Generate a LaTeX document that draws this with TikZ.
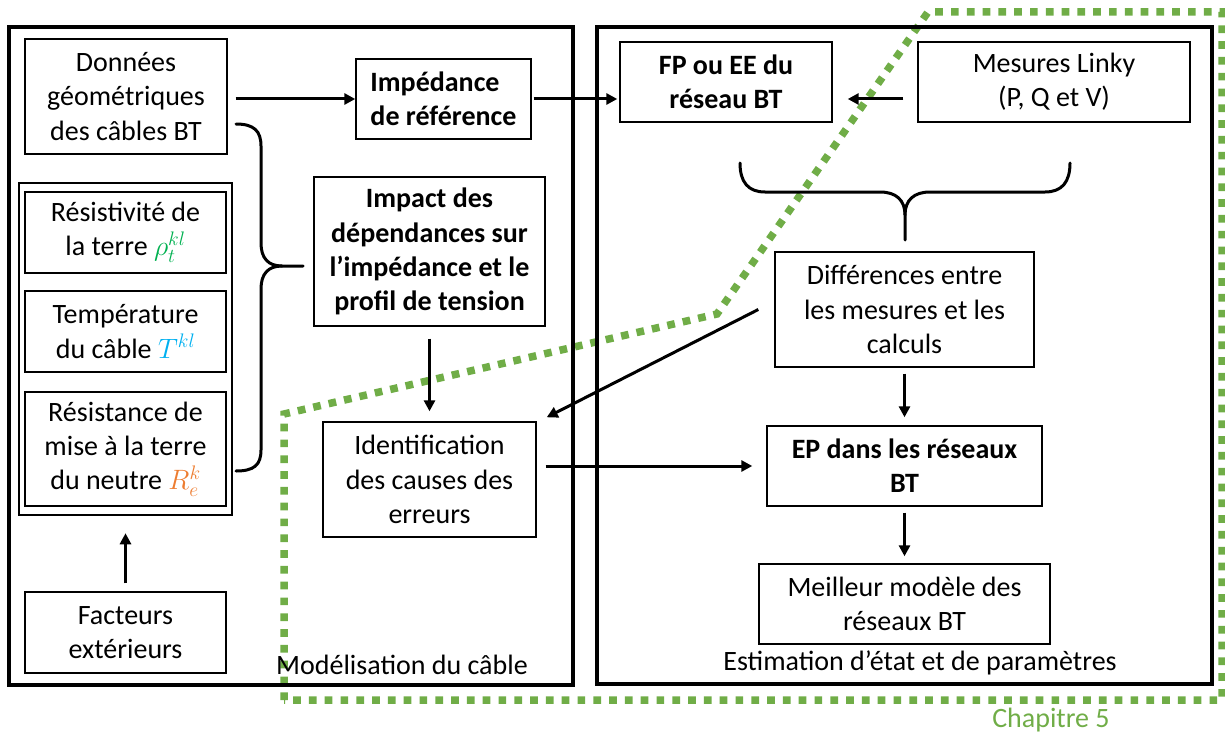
\RequirePackage{fix-cm}
\documentclass[tikz,border=0pt]{standalone}
\usepackage{fontspec}
\setmainfont{Carlito}
\usetikzlibrary{arrows.meta,calc}
\definecolor{chgreen}{HTML}{70AD47}
\definecolor{rhoc}{HTML}{00B050}
\definecolor{tc}{HTML}{00B0F0}
\definecolor{rc}{HTML}{ED7D31}
\tikzset{
  box/.style={draw, line width=1.4pt, inner sep=0pt, align=center,
    font=\fontsize{28}{34.2}\selectfont},
  bbox/.style={box, font=\fontsize{28}{34.2}\selectfont\bfseries},
  frame/.style={draw, line width=3.5pt},
  arr/.style={line width=3pt, -{Triangle[length=11pt,width=11pt]}},
  brace/.style={line width=3pt, line cap=round},
  lbl/.style={inner sep=0pt, font=\fontsize{28}{34.2}\selectfont},
  chap/.style={draw=chgreen, line width=7.5pt, dash pattern=on 7.7pt off 8.1pt}
}
\begin{document}
\begin{tikzpicture}[x=1pt,y=-1pt]
\useasboundingbox (0,0) rectangle (1225,733);
% chapter 5 dotted outline
\draw[chap] (284,700) -- (284,414) -- (717,314) -- (928,12) -- (1222,12) -- (1222,700) -- cycle;
% big frames
\draw[frame] (9,27) rectangle (573,685);
\draw[frame] (597,27) rectangle (1212,684);
% left column
\node[box, minimum width=202pt, minimum height=115pt] (don) at (126,96.5) {Données\\géométriques\\des câbles BT};
\node[draw, line width=2.5pt, minimum width=213pt, minimum height=332pt, inner sep=0pt] (grp) at (125.5,349) {};
\node[box, minimum width=201pt, minimum height=81pt] (res1) at (125.5,232.5) {Résistivité de\\la terre \textcolor{rhoc}{$\rho_t^{kl}$}};
\node[box, minimum width=201pt, minimum height=81pt] (temp) at (125.5,331.5) {Température\\du câble \textcolor{tc}{$T^{kl}$}};
\node[box, minimum width=201pt, minimum height=114pt] (res2) at (125.5,449) {Résistance de\\mise à la terre\\du neutre \textcolor{rc}{$R_e^k$}};
\node[box, minimum width=201pt, minimum height=81pt] (fac) at (125.5,632.5) {Facteurs\\extérieurs};
% middle column
\node[bbox, align=left, minimum width=175pt, minimum height=80pt] (imp) at (443.5,99) {Impédance\\de référence};
\node[bbox, minimum width=231pt, minimum height=149pt] (impact) at (429.5,251.5) {Impact des\\dépendances sur\\l’impédance et le\\profil de tension};
\node[box, minimum width=213pt, minimum height=115pt] (ident) at (429.5,479.5) {Identification\\des causes des\\erreurs};
\node[lbl] (lmod) at (402,665) {Modélisation du câble};
% right column
\node[bbox, minimum width=212pt, minimum height=80pt] (fp) at (726,82) {FP ou EE du\\réseau BT};
\node[box, minimum width=272pt, minimum height=80pt] (mes) at (1054,82) {Mesures Linky\\(P, Q et V)};
\node[box, minimum width=259pt, minimum height=115pt] (diff) at (904.5,309.5) {Différences entre\\les mesures et les\\calculs};
\node[bbox, minimum width=275pt, minimum height=80pt] (ep) at (904.5,466) {EP dans les réseaux\\BT};
\node[box, minimum width=291pt, minimum height=80pt] (mei) at (904.5,604) {Meilleur modèle des\\réseaux BT};
\node[lbl] (lest) at (920,663) {Estimation d’état et de paramètres};
\node[lbl, text=chgreen] (lchap) at (1051,720) {Chapitre 5};
% braces
\draw[brace] (236,124) .. controls (254,124) and (261,131) .. (261,146) -- (261,243)
  .. controls (261,258) and (268,266) .. (282,266) -- (303,266);
\draw[brace] (282,266) .. controls (268,266) and (261,274) .. (261,289) -- (261,450)
  .. controls (261,465) and (254,471) .. (236,471);
\draw[brace] (740,163) .. controls (740,182) and (748,192) .. (765,192) -- (880,192)
  .. controls (896,192) and (905,200) .. (905,215) -- (905,240);
\draw[brace] (905,215) .. controls (905,200) and (914,192) .. (930,192) -- (1045,192)
  .. controls (1062,192) and (1070,182) .. (1070,163);
% connectors
\draw[arr, shorten <=8pt] (don.east |- imp.west) -- (imp.west);
\draw[arr, shorten <=2pt, shorten >=2pt] (imp.east) -- (imp.east -| fp.west);
\draw[arr] ($(mes.west)+(-14,17)$) -- ($(fp.east)+(15,17)$);
\draw[arr, shorten <=12pt, shorten >=10pt] (impact.south) -- (ident.north);
\draw[arr] ($(diff.west)+(-16,0)$) -- ($(ident.north east)+(10,-4)$);
\draw[arr, shorten <=6pt, shorten >=8pt] (diff.south) -- (ep.north);
\draw[arr, shorten <=9pt, shorten >=14pt] (ep.west -| ident.east) -- (ep.west);
\draw[arr, shorten <=6pt, shorten >=7pt] (ep.south) -- (mei.north);
\draw[arr, shorten <=8pt, shorten >=17pt] (fac.north) -- (grp.south);
\end{tikzpicture}
\end{document}
